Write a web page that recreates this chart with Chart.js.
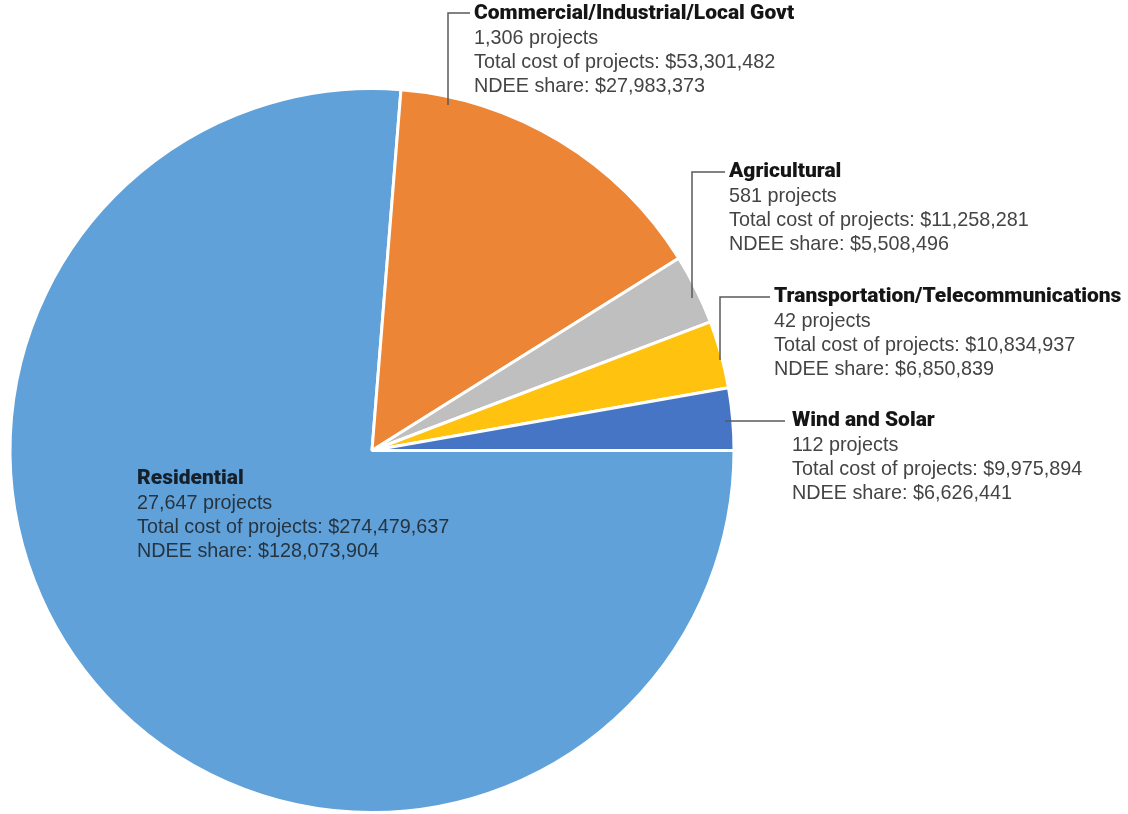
<!DOCTYPE html>
<html>
<head>
<meta charset="utf-8">
<script src="https://cdn.jsdelivr.net/npm/chart.js@4.4.1/dist/chart.umd.min.js"></script>
<style>
html,body{margin:0;padding:0;background:#fff;}
canvas{display:block;}
</style>
</head>
<body>
<canvas id="c" width="1128" height="814"></canvas>
<script>
const categories = ["Residential", "Commercial/Industrial/Local Govt", "Agricultural", "Transportation/Telecommunications", "Wind and Solar"];
const projects = ["27,647", "1,306", "581", "42", "112"];
const totalCost = [274479637, 53301482, 11258281, 10834937, 9975894];
const ndeeShare = [128073904, 27983373, 5508496, 6850839, 6626441];
const colors = ["#60A1DA", "#EC8536", "#BFBFBF", "#FFC20E", "#4775C6"];

function fmt(n){ return "$" + n.toLocaleString("en-US"); }

// label layout (text anchor + leader line polyline)
const layout = [
  {x:137, y:479, line:null, dark:true},
  {x:474, y:14, line:[[448,105],[448,13],[470,13]]},
  {x:729, y:172, line:[[692,298],[692,172],[725,172]]},
  {x:774, y:297, line:[[720,360],[720,297],[770,297]]},
  {x:792, y:421, line:[[725,421],[785,421]]}
];

const labelPlugin = {
  id:'labels',
  afterDraw(chart){
    const ctx = chart.ctx;
    ctx.save();
    layout.forEach((L,i)=>{
      if (L.line){
        ctx.strokeStyle = "#5a5a5a";
        ctx.lineWidth = 1.5;
        ctx.beginPath();
        L.line.forEach((p,k)=>{ if(k===0) ctx.moveTo(p[0],p[1]); else ctx.lineTo(p[0],p[1]); });
        ctx.stroke();
      }
      ctx.textBaseline = "middle";
      ctx.textAlign = "left";
      ctx.fillStyle = L.dark ? "#15202b" : "#151515";
      ctx.font = "900 21px Roboto, 'Liberation Sans', sans-serif";
      ctx.fillText(categories[i], L.x, L.y);
      ctx.fillStyle = L.dark ? "#26343f" : "#444444";
      ctx.font = "19.8px 'Liberation Sans', Arial, sans-serif";
      ctx.fillText(projects[i] + " projects", L.x, L.y + 24.5);
      ctx.fillText("Total cost of projects: " + fmt(totalCost[i]), L.x, L.y + 48.5);
      ctx.fillText("NDEE share: " + fmt(ndeeShare[i]), L.x, L.y + 72.5);
    });
    ctx.restore();
  }
};

new Chart(document.getElementById('c'), {
  type:'pie',
  data:{
    labels:categories,
    datasets:[{
      data:totalCost,
      backgroundColor:colors,
      borderColor:"#ffffff",
      borderWidth:3
    }]
  },
  options:{
    responsive:false,
    animation:false,
    rotation:90,
    layout:{padding:{left:7, right:391, top:87, bottom:-3}},
    plugins:{legend:{display:false}, tooltip:{enabled:false}}
  },
  plugins:[labelPlugin]
});
</script>
</body>
</html>
